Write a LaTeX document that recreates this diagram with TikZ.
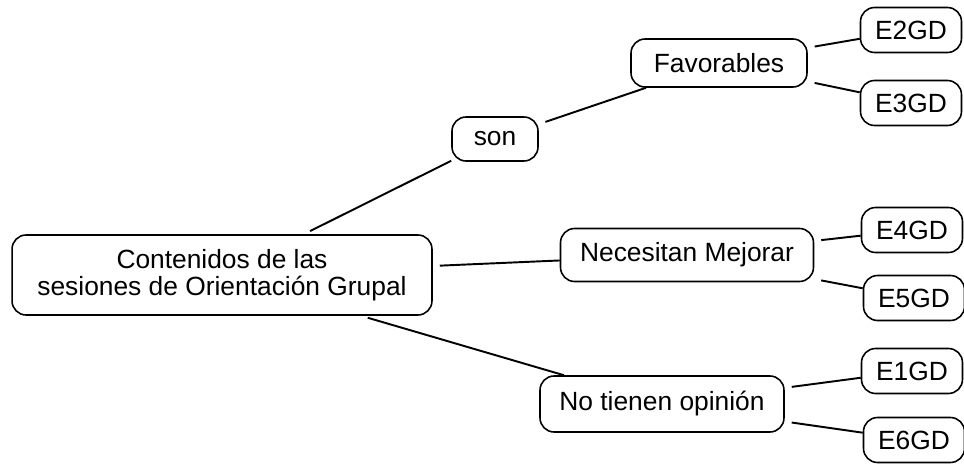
\documentclass[tikz,border=0pt]{standalone}
\usepackage{fontspec}
\setmainfont{Liberation Sans}

\tikzset{
  caja/.style={draw, rounded corners=8pt, line width=0.9pt, align=center,
    inner sep=0pt, font=\fontsize{15}{15.5}\selectfont},
  codigo/.style={caja, minimum width=2.02cm, minimum height=0.9cm},
  rama/.style={line width=1.1pt, shorten <=4pt},
}

\begin{document}
\begin{tikzpicture}[x=0.02cm,y=-0.02cm]
  \useasboundingbox (0,0) rectangle (964,466);

  % main topic
  \node[caja, minimum width=8.4cm, minimum height=1.6cm] (contenidos) at (222,275)
    {Contenidos de las\\sesiones de Orientaci\'on Grupal};

  % first level
  \node[caja, minimum width=1.72cm, minimum height=0.88cm] (son) at (495,139) {son};
  \node[caja, minimum width=3.52cm, minimum height=0.96cm] (favorables) at (719,63) {Favorables};
  \node[caja, minimum width=5.06cm, minimum height=1.06cm] (mejorar) at (687,255) {Necesitan Mejorar};
  \node[caja, minimum width=4.88cm, minimum height=1.12cm] (opinion) at (662,404) {No tienen opini\'on};

  % interview codes
  \node[codigo] (e2) at (911,30) {E2GD};
  \node[codigo] (e3) at (911,103) {E3GD};
  \node[codigo] (e4) at (912,230) {E4GD};
  \node[codigo] (e5) at (914,298) {E5GD};
  \node[codigo] (e1) at (912,371) {E1GD};
  \node[codigo] (e6) at (914,440) {E6GD};

  \draw[rama] (contenidos) -- (son);
  \draw[rama] (son) -- (favorables);
  \draw[rama] (contenidos) -- (mejorar);
  \draw[rama] (contenidos) -- (opinion);

  \draw[rama] (favorables) -- (e2);
  \draw[rama] (favorables) -- (e3);
  \draw[rama] (mejorar) -- (e4);
  \draw[rama] (mejorar) -- (e5);
  \draw[rama] (opinion) -- (e1);
  \draw[rama] (opinion) -- (e6);
\end{tikzpicture}
\end{document}
